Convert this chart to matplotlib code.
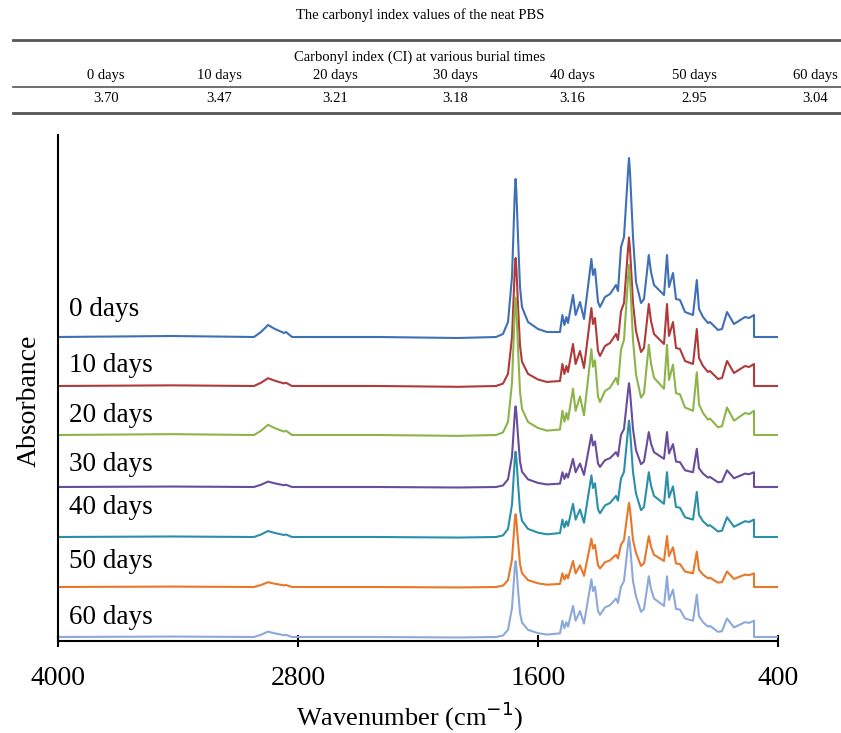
import matplotlib.pyplot as plt
from matplotlib.lines import Line2D

# table data
ci_days = ["0 days", "10 days", "20 days", "30 days", "40 days", "50 days", "60 days"]
ci_values = ["3.70", "3.47", "3.21", "3.18", "3.16", "2.95", "3.04"]

# key points of the 0-day spectrum (wavenumber, absorbance in arbitrary units)
wavenumber = [4000, 3430, 3020, 2985, 2950, 2915, 2870, 2860, 2830, 2400, 2000, 1810,
              1775, 1750, 1730, 1716, 1712, 1708, 1700, 1690, 1680, 1650, 1600, 1555,
              1490, 1478, 1468, 1458, 1450, 1425, 1412, 1390, 1370, 1333, 1325, 1315,
              1300, 1290, 1265, 1240, 1210, 1200, 1185, 1170, 1150, 1145, 1140, 1125, 1110, 1085,
              1070, 1046, 1035, 1020, 990, 970, 955, 945, 925, 910, 890, 865, 825,
              806, 795, 775, 750, 740, 700, 680, 655, 620, 565, 545, 520, 519.9, 400]
absorb_0 = [0.0, 0.01, 0.0, 0.05, 0.12, 0.08, 0.04, 0.05, 0.0, 0.0, -0.01, 0.0,
            0.03, 0.15, 0.60, 1.45, 1.58, 1.45, 1.00, 0.50, 0.30, 0.15, 0.08, 0.05,
            0.05, 0.22, 0.12, 0.20, 0.14, 0.42, 0.22, 0.35, 0.18, 0.78, 0.62, 0.68,
            0.35, 0.30, 0.40, 0.43, 0.52, 0.46, 0.90, 1.00, 1.65, 1.79, 1.65, 1.00, 0.55, 0.34,
            0.38, 0.82, 0.65, 0.52, 0.46, 0.42, 0.82, 0.50, 0.64, 0.38, 0.37, 0.25, 0.22,
            0.57, 0.28, 0.20, 0.14, 0.15, 0.07, 0.08, 0.25, 0.13, 0.20, 0.19, 0.22, 0.0, 0.0]

# per-sample intensity relative to 0 days, read from the peaks
labels = ["0 days", "10 days", "20 days", "30 days", "40 days", "50 days", "60 days"]
offsets = [3.04, 2.55, 2.06, 1.54, 1.04, 0.54, 0.04]
ch_scale = [1.0, 0.65, 0.85, 0.45, 0.50, 0.40, 0.45]
co_scale = [1.0, 0.81, 0.87, 0.51, 0.54, 0.46, 0.48]
ester_scale = [1.0, 0.83, 0.95, 0.58, 0.65, 0.47, 0.56]
fp_scale = [1.0, 1.0, 1.1, 0.67, 0.79, 0.62, 0.74]
label_y = [3.31, 2.76, 2.26, 1.76, 1.33, 0.80, 0.24]
colors = ['#3F70B6', '#B03A3A', '#8DB449', '#6A4C9C', '#2B8FAA', '#E8772A', '#8DA9DA']

serif = ['Liberation Serif', 'DejaVu Serif']
plt.rcParams['font.family'] = serif

fig = plt.figure(figsize=(8.41, 7.33), dpi=100)

# ---- table on top ----
tab = fig.add_axes([0, 1 - 120 / 733, 1, 120 / 733])
tab.set_xlim(0, 841)
tab.set_ylim(120, 0)
tab.axis('off')
col_x = [106, 219, 335, 455, 572, 694, 815]
tab.text(420, 15, "The carbonyl index values of the neat PBS", ha='center', va='center', fontsize=10.5)
tab.text(420, 57, "Carbonyl index (CI) at various burial times", ha='center', va='center', fontsize=10.5)
for x, d, v in zip(col_x, ci_days, ci_values):
    tab.text(x, 76, d, ha='center', va='center', fontsize=10.5)
    tab.text(x, 99, v, ha='center', va='center', fontsize=10.5)
tab.add_line(Line2D([13, 841], [40, 40], color='#555555', lw=2.0))
tab.add_line(Line2D([13, 841], [87, 87], color='#555555', lw=1.2))
tab.add_line(Line2D([13, 841], [113, 113], color='#555555', lw=2.0))

# ---- spectra ----
ax = fig.add_axes([58 / 841, 1 - 641 / 733, 720 / 841, 506 / 733])


def scale_for(w, i):
    if w > 2500:
        return ch_scale[i]
    if w > 1550:
        return co_scale[i]
    if 1115 <= w <= 1195:
        return ester_scale[i]
    return fp_scale[i]


for i, lab in enumerate(labels):
    y = [offsets[i] + a * scale_for(w, i) for w, a in zip(wavenumber, absorb_0)]
    ax.plot(wavenumber, y, color=colors[i], lw=1.5)
    ax.text(3945, label_y[i], lab, ha='left', va='center', fontsize=19.5)

ax.set_xlim(4000, 400)
ax.set_ylim(0, 5.06)
ax.set_xticks([4000, 2800, 1600, 400])
ax.set_yticks([])
ax.spines['top'].set_visible(False)
ax.spines['right'].set_visible(False)
ax.spines['left'].set_linewidth(1.5)
ax.spines['bottom'].set_linewidth(1.5)
ax.tick_params(axis='x', direction='inout', length=8, width=1.5, labelsize=20, pad=14)

fig.text(29 / 841, 1 - 401 / 733, "Absorbance", rotation=90, ha='center', va='center', fontsize=20)
fig.text(410 / 841, 1 - 716 / 733, "Wavenumber (cm$^{-1}$)", ha='center', va='center', fontsize=19)

fig.savefig("out.png", dpi=100)
